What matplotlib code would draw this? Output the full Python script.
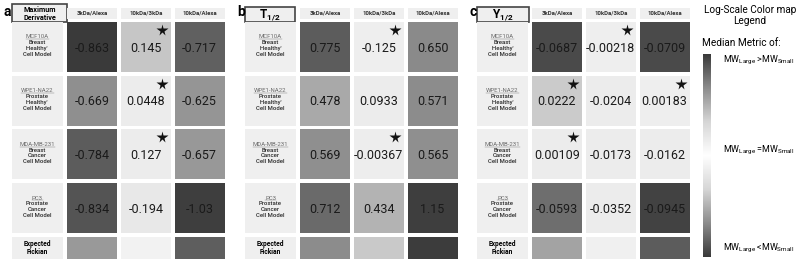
import matplotlib.pyplot as plt
import matplotlib.patches as mpatches
import numpy as np
from matplotlib.colors import LinearSegmentedColormap

plt.rcParams['font.family'] = ['Roboto', 'DejaVu Sans']
plt.rcParams['mathtext.fontset'] = 'custom'
plt.rcParams['mathtext.rm'] = 'Roboto'
plt.rcParams['mathtext.bf'] = 'Roboto:bold'
plt.rcParams['mathtext.it'] = 'Roboto:italic'

# ---- data -------------------------------------------------------------
letters = ["a", "b", "c"]
titles = ["Maximum\nDerivative", r"$\mathbf{T}_{\mathbf{1/2}}$", r"$\mathbf{Y}_{\mathbf{1/2}}$"]
columns = ["3kDa/Alexa", "10kDa/3kDa", "10kDa/Alexa"]
cell_names = ["MCF10A", "WPE1-NA22", "MDA-MB-231", "PC3"]
cell_desc = [["Breast", "'Healthy'", "Cell Model"],
             ["Prostate", "'Healthy'", "Cell Model"],
             ["Breast", "Cancer", "Cell Model"],
             ["Prostate", "Cancer", "Cell Model"]]

values_a = [[-0.863, 0.145, -0.717],
            [-0.669, 0.0448, -0.625],
            [-0.784, 0.127, -0.657],
            [-0.834, -0.194, -1.03]]
values_b = [[0.775, -0.125, 0.650],
            [0.478, 0.0933, 0.571],
            [0.569, -0.00367, 0.565],
            [0.712, 0.434, 1.15]]
values_c = [[-0.0687, -0.00218, -0.0709],
            [0.0222, -0.0204, 0.00183],
            [0.00109, -0.0173, -0.0162],
            [-0.0593, -0.0352, -0.0945]]

# colour-map shade of each cell (grey level 0-255)
shade_a = [[58, 198, 96], [143, 236, 149], [92, 236, 152], [84, 232, 62]]
shade_b = [[92, 238, 138], [169, 236, 140], [143, 237, 143], [106, 179, 62]]
shade_c = [[74, 238, 74], [203, 236, 238], [236, 236, 236], [110, 236, 66]]
fickian_a = [153, 242, 94]
fickian_b = [140, 201, 60]
fickian_c = [163, 240, 92]

stars_a = [(0, 1), (1, 1), (2, 1)]
stars_b = [(0, 1), (2, 1)]
stars_c = [(0, 1), (1, 0), (1, 2), (2, 0)]

panels = [(values_a, shade_a, fickian_a, stars_a),
          (values_b, shade_b, fickian_b, stars_b),
          (values_c, shade_c, fickian_c, stars_c)]

legend_labels = [r"MW$_{\mathrm{Large}}$ >MW$_{\mathrm{Small}}$",
                 r"MW$_{\mathrm{Large}}$ =MW$_{\mathrm{Small}}$",
                 r"MW$_{\mathrm{Large}}$ <MW$_{\mathrm{Small}}$"]

# ---- layout -----------------------------------------------------------
panel_x0 = [12, 245, 477]
title_w = [55, 50, 52]
label_w = 51
col_off, col_pitch, cell_w = 55, 53.8, 50
row_top, row_pitch, cell_h = 22, 53.7, 50
light = "#efefef"
txt_dark = "#1a1a1a"

fig = plt.figure(figsize=(8, 2.59), dpi=100)
ax = fig.add_axes([0, 0, 1, 1])
ax.set_xlim(0, 800)
ax.set_ylim(259, 0)
ax.axis("off")


def grey(v):
    return plt.cm.gray(v / 255.0)


underline_jobs = []

for p, (vals, shades, fick, stars) in enumerate(panels):
    x0 = panel_x0[p]
    ax.text(x0 - 8, 12, letters[p], fontsize=10, fontweight="bold", ha="left", va="center")
    # title box
    top = 4 if p == 0 else 7
    ax.add_patch(mpatches.Rectangle((x0, top), title_w[p], 22 - top, facecolor=light,
                                    edgecolor="#444444", lw=1.2))
    ax.text(x0 + title_w[p] / 2, (top + 22) / 2 + 0.5, titles[p], ha="center", va="center",
            fontsize=5.2 if p == 0 else 8.5, fontweight="bold", linespacing=1.0)
    # column headers
    for j, c in enumerate(columns):
        cx = x0 + col_off + j * col_pitch
        ax.add_patch(mpatches.Rectangle((cx, 8), cell_w, 10.5, facecolor=light, lw=0))
        ax.text(cx + cell_w / 2, 13.3, c, ha="center", va="center", fontsize=4.3,
                fontweight="bold", color="#333333")
    # rows
    for i in range(4):
        ry = row_top + i * row_pitch
        ax.add_patch(mpatches.Rectangle((x0, ry), label_w, cell_h, facecolor=light, lw=0))
        lx = x0 + label_w / 2
        ys = ry + cell_h / 2 - 8.6 + np.arange(4) * 5.8
        t = ax.text(lx, ys[0], cell_names[i], ha="center", va="baseline", fontsize=4.3,
                    color="#6a6a6a")
        underline_jobs.append((t, lx, ys[0]))
        for k, line in enumerate(cell_desc[i]):
            ax.text(lx, ys[k + 1], line, ha="center", va="baseline", fontsize=4.3,
                    color="#2a2a2a", fontweight="medium")
        for j in range(3):
            cx = x0 + col_off + j * col_pitch
            ax.add_patch(mpatches.Rectangle((cx, ry), cell_w, cell_h,
                                            facecolor=grey(shades[i][j]), lw=0))
            ax.text(cx + cell_w / 2, ry + cell_h / 2 + 1, f"{vals[i][j]:#.3g}",
                    ha="center", va="center", fontsize=9, color=txt_dark)
            if (i, j) in stars:
                ax.plot(cx + cell_w - 9, ry + 8, marker="*", markersize=8.5,
                        color="#111111", mec="none")
    # expected fickian row
    fy = row_top + 4 * row_pitch
    ax.add_patch(mpatches.Rectangle((x0, fy), label_w, 259 - fy, facecolor=light, lw=0))
    ax.text(x0 + label_w / 2, fy + 11, "Expected\nFickian", ha="center", va="center",
            fontsize=4.8, fontweight="bold", linespacing=1.1)
    for j in range(3):
        cx = x0 + col_off + j * col_pitch
        ax.add_patch(mpatches.Rectangle((cx, fy), cell_w, 259 - fy,
                                        facecolor=grey(fick[j]), lw=0))

# legend
ax.text(750, 10, "Log-Scale Color map", ha="center", va="center", fontsize=7.2)
ax.text(750, 21, "Legend", ha="center", va="center", fontsize=7.2)
ax.text(702, 43, "Median Metric of:", ha="left", va="center", fontsize=7.2)
bar_cmap = LinearSegmentedColormap.from_list(
    "bar", ["#3a3a3a", "#8c8c8c", "#d6d6d6", "#ffffff", "#d6d6d6", "#8c8c8c", "#3a3a3a"])
grad = np.linspace(0, 1, 256).reshape(-1, 1)
ax.imshow(grad, cmap=bar_cmap, extent=(703, 711, 257, 54), aspect="auto", zorder=2)
for y, lab in zip([60, 150, 248], legend_labels):
    ax.text(723, y, lab, ha="left", va="center", fontsize=6.4)

ax.set_xlim(0, 800)
ax.set_ylim(259, 0)

# underline cell line names
fig.canvas.draw()
r = fig.canvas.get_renderer()
inv = ax.transData.inverted()
for t, lx, base in underline_jobs:
    bb = t.get_window_extent(renderer=r)
    xa = inv.transform((bb.x0, bb.y0))[0]
    xb = inv.transform((bb.x1, bb.y0))[0]
    ax.plot([xa, xb], [base + 0.9, base + 0.9], color="#888888", lw=0.35)

fig.savefig("out.png", dpi=100)
